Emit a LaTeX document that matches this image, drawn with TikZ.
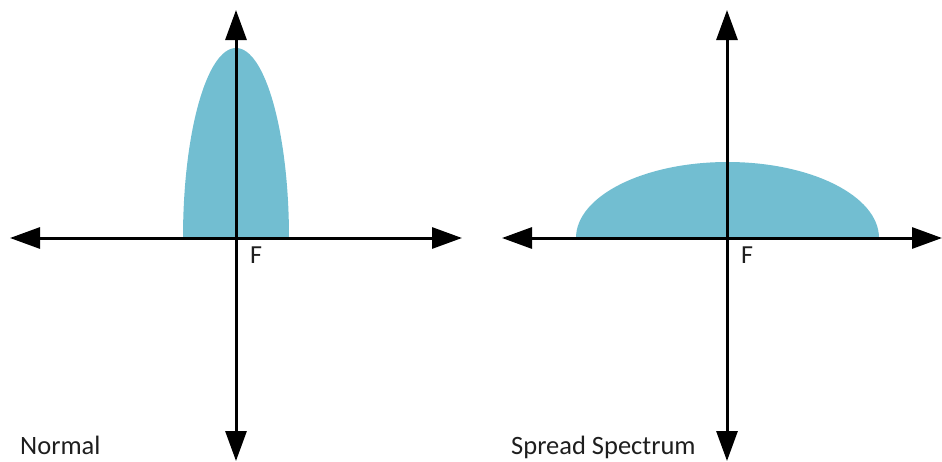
\documentclass[tikz,border=0pt]{standalone}
\usepackage{fontspec}
\setmainfont{Carlito}
\usetikzlibrary{arrows.meta}
\definecolor{lobe}{RGB}{114,190,209}
\definecolor{ink}{RGB}{30,30,30}
\tikzset{axis/.style={line width=3pt,{Triangle[length=30pt,width=21pt]}-{Triangle[length=30pt,width=21pt]}},
    lobefill/.style={fill=lobe,draw=none},
    caption/.style={anchor=base west,inner sep=0pt,text=ink,font=\fontsize{26.5}{30}\selectfont},
    flabel/.style={anchor=north west,inner sep=0pt,text=ink,font=\fontsize{26}{30}\selectfont}}

\begin{document}
\begin{tikzpicture}[x=1pt,y=-1pt]
            \useasboundingbox (0,0) rectangle (942,461);
            % left: normal
            \coordinate (nO) at (236,238);
            \fill[lobefill] (183,238) arc[start angle=180,end angle=360,x radius=53,y radius=190] -- cycle;
            \coordinate (nW) at (10,238);
            \coordinate (nE) at (462,238);
            \coordinate (nN) at (236,10);
            \coordinate (nS) at (236,461);
            \draw[axis] (nW) -- (nE);
            \draw[axis] (nS) -- (nN);
            \node[flabel] (nF) at (250,247) {F};
            \node[caption] (normal) at (20,454) {Normal};
            % right: spread spectrum
            \coordinate (sO) at (727,238);
            \fill[lobefill] (576,238) arc[start angle=180,end angle=360,x radius=151.5,y radius=76] -- cycle;
            \coordinate (sW) at (502,238);
            \coordinate (sE) at (942,238);
            \coordinate (sN) at (727,10);
            \coordinate (sS) at (727,461);
            \draw[axis] (sW) -- (sE);
            \draw[axis] (sS) -- (sN);
            \node[flabel] (sF) at (741,247) {F};
            \node[caption] (spread) at (511,454) {Spread Spectrum};
        \end{tikzpicture}
\end{document}
